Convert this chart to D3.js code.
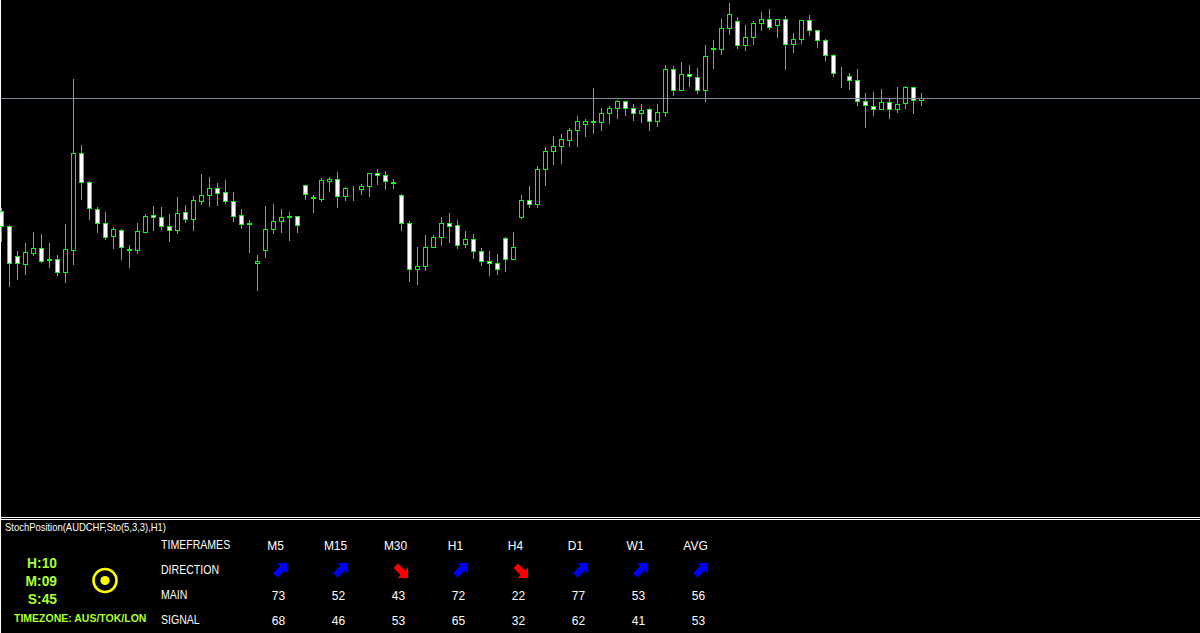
<!DOCTYPE html>
<html>
<head>
<meta charset="utf-8">
<title>AUDCHF H1</title>
<script src="https://cdn.jsdelivr.net/npm/d3@7"></script>
<style>
html, body { margin: 0; padding: 0; background: #000; overflow: hidden; }
svg { display: block; }
text { font-family: "Liberation Sans", Arial, sans-serif; fill: #fff; }
</style>
</head>
<body>
<div id="chart"></div>
<script>
// candle values, in points above the floor of the price pane
const opens = [306,291,261,253,264,269,258,258,245,267,364,335,308,294,281,287,268,267,285,302,300,291,287,305,298,316,322,329,325,316,302,294,254,267,288,296,301,301,332,320,318,336,338,321,329,328,331,344,342,335,322,294,248,251,270,280,294,292,273,278,266,256,254,279,258,300,317,313,348,366,371,377,387,393,396,395,404,409,416,409,404,408,396,405,448,427,443,440,427,469,468,489,496,472,480,494,498,492,498,473,478,497,487,477,462,441,441,437,416,411,408,415,408,414,430,417];
const highs = [309,292,266,274,285,283,274,262,293,438,372,336,310,305,290,288,272,294,303,311,310,303,320,312,321,343,340,334,337,325,308,297,262,311,313,308,305,301,332,322,339,340,345,330,331,333,344,348,346,338,323,296,270,282,282,300,304,297,286,283,269,266,263,280,285,322,331,351,370,381,383,389,401,398,429,409,411,417,416,413,413,409,413,452,451,455,452,449,472,477,498,514,500,492,496,505,508,498,501,484,497,502,487,478,463,450,444,448,424,425,428,418,430,431,430,424];
const lows = [276,231,238,243,262,255,250,242,235,253,318,298,285,278,269,258,250,264,285,287,288,276,284,295,287,313,311,312,314,296,289,265,227,260,284,285,277,285,318,305,316,326,310,317,317,323,321,333,328,329,287,236,233,247,270,272,275,269,270,259,252,242,243,246,258,299,310,310,332,353,354,371,371,381,384,387,394,399,402,397,395,387,391,401,422,427,431,424,416,449,463,483,469,467,473,487,488,480,448,465,474,482,470,457,441,430,428,412,390,402,408,399,405,409,404,412];
const closes = [291,254,254,265,269,256,257,245,268,364,335,309,294,280,288,270,267,286,301,300,291,287,304,298,317,322,329,324,316,301,293,293,256,288,296,300,300,292,323,319,337,338,321,329,329,331,344,342,336,334,294,248,251,270,280,294,291,272,278,266,256,254,248,258,270,317,313,348,366,371,378,387,396,396,395,404,409,416,409,404,407,396,405,448,427,443,441,427,461,468,489,503,472,480,494,498,490,498,473,478,497,487,477,462,444,441,437,416,412,408,415,408,413,430,417,419];
const bidLevel = 419;
const pointFloor = 0, pointCeil = 517;

// stochastic dashboard
const timeframes = ["M5", "M15", "M30", "H1", "H4", "D1", "W1", "AVG"];
const mainValues = [73, 52, 43, 72, 22, 77, 53, 56];
const signalValues = [68, 46, 53, 65, 32, 62, 41, 53];
const rowLabels = ["TIMEFRAMES", "DIRECTION", "MAIN", "SIGNAL"];
const clockLines = ["H:10", "M:09", "S:45"];
const timezoneLabel = "TIMEZONE: AUS/TOK/LON";
const indicatorTitle = "StochPosition(AUDCHF,Sto(5,3,3),H1)";

const width = 1200, height = 633;
const green = "#00ff00", lime = "#adff2f";

const svg = d3.select("#chart").append("svg")
    .attr("width", width)
    .attr("height", height);

svg.append("rect").attr("width", width).attr("height", height).attr("fill", "#000");

const x = d3.scaleLinear().domain([0, opens.length - 1]).range([1, 921]);
const y = d3.scaleLinear().domain([pointFloor, pointCeil]).range([pointCeil, 0]);

// pane borders
svg.append("g").attr("shape-rendering", "crispEdges")
    .selectAll("line")
    .data([[0.5, 0, 0.5, 633], [0, 517.5, 1200, 517.5], [0, 519.5, 1200, 519.5]])
    .join("line")
    .attr("x1", d => d[0]).attr("y1", d => d[1])
    .attr("x2", d => d[2]).attr("y2", d => d[3])
    .attr("stroke", "#fff");

// candles
const candles = svg.append("g")
    .attr("shape-rendering", "crispEdges")
    .selectAll("g")
    .data(opens.map((o, i) => ({i, o, h: highs[i], l: lows[i], c: closes[i]})))
    .join("g");

candles.append("line")
    .attr("x1", d => x(d.i) + 0.5)
    .attr("x2", d => x(d.i) + 0.5)
    .attr("y1", d => y(d.h))
    .attr("y2", d => y(d.l) + 1)
    .attr("stroke", green);

candles.append("rect")
    .attr("x", d => x(d.i) - 1.5)
    .attr("width", 4)
    .attr("y", d => y(Math.max(d.o, d.c)) + 0.5)
    .attr("height", d => Math.abs(d.o - d.c))
    .attr("fill", d => d.c > d.o ? "#000" : "#fff")
    .attr("stroke", green);

// bid line
svg.append("line")
    .attr("x1", 1).attr("x2", width)
    .attr("y1", y(bidLevel) + 0.5).attr("y2", y(bidLevel) + 0.5)
    .attr("stroke", "#778899")
    .attr("shape-rendering", "crispEdges");

svg.append("text")
    .attr("x", 5).attr("y", 531)
    .attr("textLength", 161)
    .attr("lengthAdjust", "spacingAndGlyphs")
    .style("font-size", "10.5px")
    .text(indicatorTitle);

// clock
svg.append("g")
    .selectAll("text")
    .data(clockLines)
    .join("text")
    .attr("transform", (d, i) => `translate(57,${568 + i * 18}) scale(0.92,1)`)
    .attr("text-anchor", "end")
    .style("font-size", "15px")
    .style("font-weight", "bold")
    .style("fill", lime)
    .text(d => d);

svg.append("text")
    .attr("x", 14).attr("y", 622)
    .style("font-size", "10.5px")
    .style("font-weight", "bold")
    .style("fill", lime)
    .text(timezoneLabel);

svg.append("circle").attr("cx", 105).attr("cy", 580.5).attr("r", 11.5)
    .attr("fill", "none").attr("stroke", "#ffff00").attr("stroke-width", 2.6);
svg.append("circle").attr("cx", 105).attr("cy", 580.5).attr("r", 4.6)
    .attr("fill", "#ffff00");

// dashboard table
const col = d3.scalePoint().domain(timeframes).range([278.5, 698.5]);
const row = d3.scalePoint().domain(rowLabels).range([549, 624]);

svg.append("g")
    .selectAll("text")
    .data(rowLabels)
    .join("text")
    .attr("transform", d => `translate(161,${row(d)}) scale(0.88,1)`)
    .style("font-size", "12px")
    .text(d => d);

svg.append("g")
    .selectAll("text")
    .data(timeframes)
    .join("text")
    .attr("transform", d => `translate(${col(d) - 3},${row("TIMEFRAMES") + 1}) scale(0.92,1)`)
    .attr("text-anchor", "middle")
    .style("font-size", "13px")
    .text(d => d);

[["MAIN", mainValues], ["SIGNAL", signalValues]].forEach(([label, values]) => {
    svg.append("g")
        .selectAll("text")
        .data(values)
        .join("text")
        .attr("x", (d, i) => col(timeframes[i]))
        .attr("y", row(label) + 1)
        .attr("text-anchor", "middle")
        .style("font-size", "12px")
        .text(d => d);
});

// arrows, up when main is over signal
const upArrow = "M-3,-7.5L7.5,-7.5L7.5,3L4.5,0L-2.5,7L-7,2.5L0,-4.5Z";
const downArrow = "M-7,-2.5L-2.5,-7L4.5,0L7.5,-3L7.5,7.5L-3,7.5L0,4.5Z";

svg.append("g")
    .selectAll("path")
    .data(timeframes)
    .join("path")
    .attr("transform", (d, i) => `translate(${col(d) + (mainValues[i] > signalValues[i] ? 1.5 : 2)},570.5)`)
    .attr("d", (d, i) => mainValues[i] > signalValues[i] ? upArrow : downArrow)
    .attr("fill", (d, i) => mainValues[i] > signalValues[i] ? "#0000ff" : "#ff0000");
</script>
</body>
</html>
